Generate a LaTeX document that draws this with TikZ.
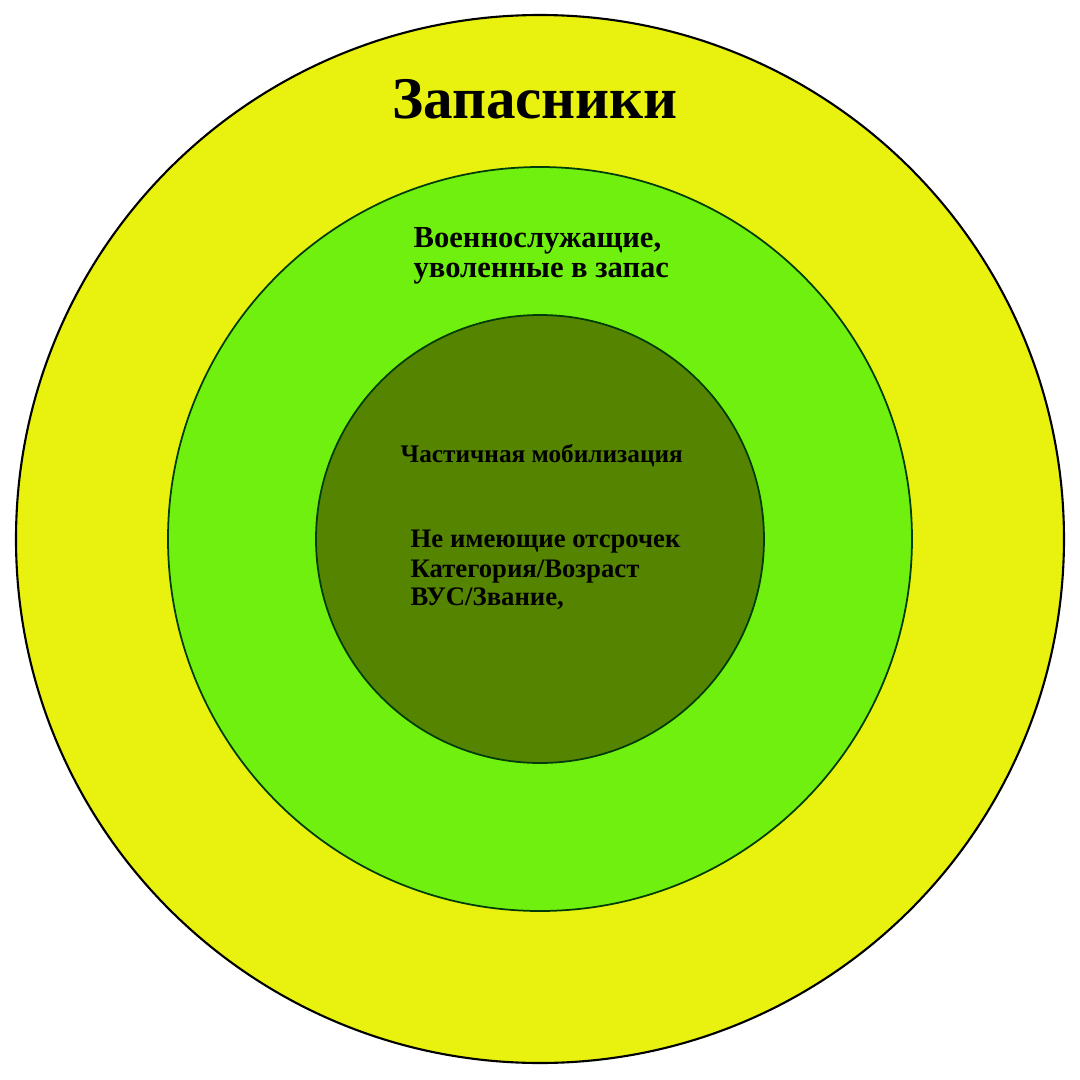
\documentclass[tikz,border=0pt]{standalone}
\usepackage{fontspec}
\setmainfont{Liberation Serif}
\definecolor{zheltyj}{RGB}{232,242,14}
\definecolor{salat}{RGB}{112,240,14}
\definecolor{temnozel}{RGB}{85,132,0}
\definecolor{obvod}{RGB}{0,60,10}
\begin{document}
\begin{tikzpicture}[x=0.1mm,y=0.1mm,
	stroka/.style={anchor=base west,inner sep=0pt,font=\bfseries\fontsize{8.7}{11}\selectfont},
	melko/.style={anchor=base west,inner sep=0pt,font=\bfseries\fontsize{7.6}{9}\selectfont}]
	\def\ra{524} % vneshnij krug
	\def\rb{372}
	\def\rc{224}
	\fill[white] (0,0) rectangle (1080,1080);
	\useasboundingbox (0,0) rectangle (1080,1080);
	\coordinate (O) at (540,541);
	\filldraw[fill=zheltyj,draw=black,line width=0.6pt] (O) circle (\ra);
	\filldraw[fill=salat,draw=obvod,line width=0.5pt] (O) circle (\rb);
	\filldraw[fill=temnozel,draw=obvod,line width=0.5pt] (O) circle (\rc);
	\node[anchor=base,inner sep=0pt,font=\bfseries\fontsize{16.8}{20}\selectfont] (zapas) at (535,962) {Запасники};
	\node[stroka] (voen1) at (413,833) {Военнослужащие,};
	\node[stroka] (voen2) at (413,803) {уволенные в запас};
	\node[melko,font=\bfseries\fontsize{7.2}{9}\selectfont] (mobil) at (400,618) {Частичная мобилизация};
	\node[melko] (otsr) at (410,533) {Не имеющие отсрочек};
	\node[melko] (kat) at (410,503) {Категория/Возраст};
	\node[melko] (vus) at (410,475) {ВУС/Звание,};
\end{tikzpicture}
\end{document}
